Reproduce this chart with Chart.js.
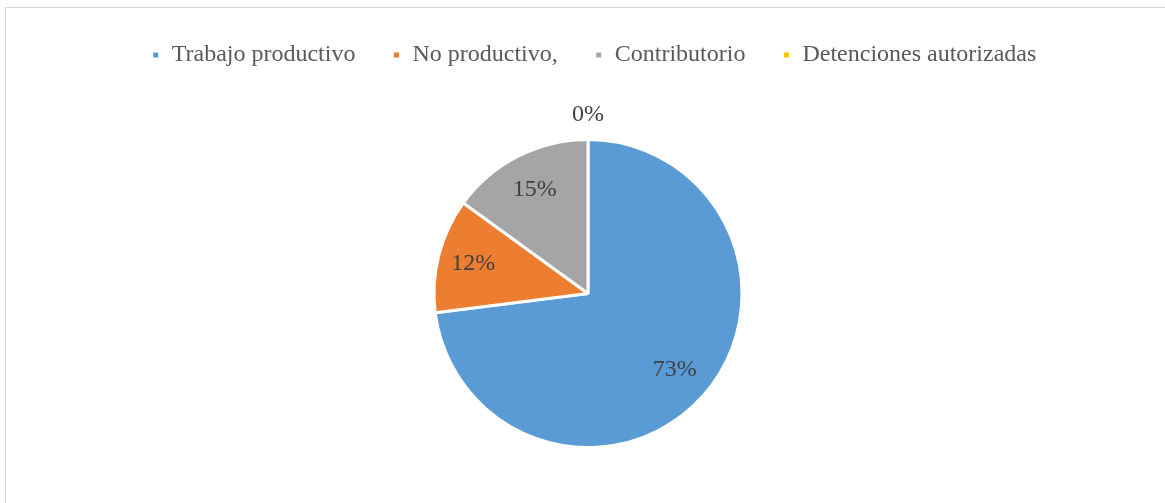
<!DOCTYPE html>
<html>
<head>
<meta charset="utf-8">
<script src="https://cdn.jsdelivr.net/npm/chart.js@4.4.1/dist/chart.umd.min.js"></script>
<style>
    html, body { margin: 0; padding: 0; background: #fff; overflow: hidden; }
    #frame { position: absolute; left: 5px; top: 7px; width: 1200px; height: 600px; border: 1px solid #d9d9d9; }
    #wrap { position: absolute; left: 0; top: 0; width: 1165px; height: 503px; }
</style>
</head>
<body>
<div id="frame"></div>
<div id="wrap"><canvas id="pieChart"></canvas></div>
<script>
var categories = ['Trabajo productivo', 'No productivo,', 'Contributorio', 'Detenciones autorizadas'];
var shares = [73, 12, 15, 0];
var percentLabels = ['73%', '12%', '15%', '0%'];
var sliceColors = ['#5B9BD5', '#ED7D31', '#A5A5A5', '#FFC000'];

// push the plot area down below the legend, nudge the legend row right
var legendSpacer = {
    id: 'legendSpacer',
    beforeInit: function (chart) {
        var fit = chart.legend.fit;
        chart.legend.fit = function () {
            fit.bind(chart.legend)();
            this.height += 61;
        };
    },
    afterLayout: function (chart) {
        chart.legend.left += 12;
    }
};

// percentage text on each slice
var sliceLabels = {
    id: 'sliceLabels',
    afterDatasetsDraw: function (chart, args, opts) {
        var ctx = chart.ctx;
        var meta = chart.getDatasetMeta(0);
        ctx.save();
        ctx.font = opts.font;
        ctx.fillStyle = opts.color;
        ctx.textAlign = 'center';
        ctx.textBaseline = 'middle';
        meta.data.forEach(function (arc, i) {
            var mid = (arc.startAngle + arc.endAngle) / 2;
            var r = arc.outerRadius * opts.radius[i];
            ctx.fillText(percentLabels[i], arc.x + Math.cos(mid) * r, arc.y + Math.sin(mid) * r);
        });
        ctx.restore();
    }
};

var ctx = document.getElementById('pieChart').getContext('2d');
var myChart = new Chart(ctx, {
    type: 'pie',
    data: {
        labels: categories,
        datasets: [{
            data: shares,
            backgroundColor: sliceColors,
            borderColor: '#ffffff',
            borderWidth: 3,
            hoverOffset: 0
        }]
    },
    options: {
        responsive: true,
        maintainAspectRatio: false,
        animation: false,
        layout: { padding: { top: 6, bottom: 54, left: 11 } },
        plugins: {
            legend: {
                position: 'top',
                labels: {
                    boxWidth: 8,
                    boxHeight: 8,
                    padding: 37,
                    color: '#595959',
                    font: { family: '"Liberation Serif", "Times New Roman", serif', size: 24 }
                }
            },
            tooltip: { enabled: false },
            sliceLabels: {
                font: '24px "Liberation Serif", "Times New Roman", serif',
                color: '#404040',
                radius: [0.75, 0.77, 0.76, 1.16]
            }
        }
    },
    plugins: [legendSpacer, sliceLabels]
});
</script>
</body>
</html>
